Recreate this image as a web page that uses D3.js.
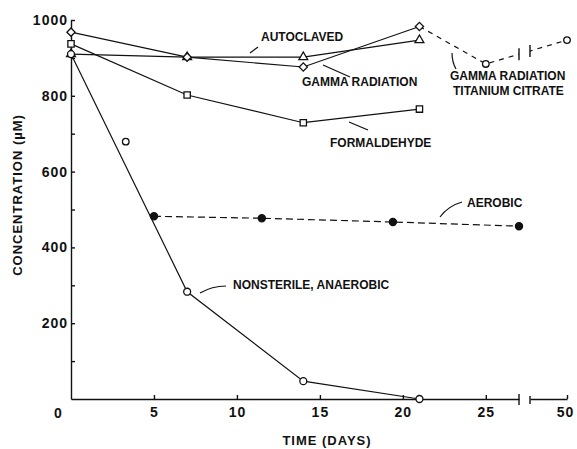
<!DOCTYPE html>
<html>
<head>
<meta charset="utf-8">
<script src="https://cdn.jsdelivr.net/npm/d3@7"></script>
<style>
  body { margin: 0; background: #fff; }
  text { font-family: "Liberation Sans", Arial, sans-serif; fill: #111; }
</style>
</head>
<body>
<div id="chart"></div>
<script>
// data
const days = [0, 7, 14, 21];
const autoclaved = [910, 902, 902, 947];
const gammaRadiation = [968, 902, 876, 983];
const formaldehyde = [937, 802, 729, 765];
const nonsterile = [910, 283, 47, 0];
const nonsterileExtraDays = [3.3];
const nonsterileExtra = [679];
const aerobicDays = [5, 11.5, 19.4, 27];
const aerobic = [482, 477, 467, 456];
const titaniumDays = [21, 25, 50];
const titanium = [983, 884, 947];
const xTicks = [5, 10, 15, 20, 25];
const xTicksAfterBreak = [50];
const yTicks = [100, 200, 300, 400, 500, 600, 700, 800, 900, 1000];

const width = 577, height = 449;
const breakStart = 27, breakEnd = 47.8;

const svg = d3.select("#chart").append("svg")
    .attr("width", width)
    .attr("height", height);

const x1 = d3.scaleLinear().domain([0, breakStart]).range([71, 519]);
const x2 = d3.scaleLinear().domain([breakEnd, 50]).range([530, 567]);
const xPos = d => d <= breakStart ? x1(d) : x2(d);
const y = d3.scaleLinear().domain([0, 1000]).range([399, 20]);

// axes
const yAxis = d3.axisLeft(y)
    .tickValues(yTicks)
    .tickSizeInner(-4)
    .tickSizeOuter(0)
    .tickPadding(3)
    .tickFormat(d => d % 200 === 0 ? d : "");

const gy = svg.append("g")
    .attr("transform", `translate(${x1(0)},0)`)
    .call(yAxis);

const gx = svg.append("g")
    .attr("transform", `translate(0,${y(0)})`)
    .call(d3.axisBottom(x1).tickValues(xTicks).tickSizeInner(-4).tickSizeOuter(0)
        .tickPadding(8).tickFormat(d3.format("d")));

const gx2 = svg.append("g")
    .attr("transform", `translate(0,${y(0)})`)
    .call(d3.axisBottom(x2).tickValues(xTicksAfterBreak).tickSizeInner(-4).tickSizeOuter(0)
        .tickPadding(8).tickFormat(d3.format("d")));

[gy, gx, gx2].forEach(g => {
    g.attr("font-family", null).attr("font-size", null);
    g.selectAll("path, line").attr("stroke", "#111").attr("stroke-width", 1.4);
    g.selectAll("text").attr("font-size", "14px").attr("font-weight", "bold")
        .attr("letter-spacing", "1px").attr("fill", "#111");
});
gx2.selectAll("text").attr("dx", "-2px");

// origin label
svg.append("text")
    .attr("x", x1(0) - 13)
    .attr("y", y(0) + 19)
    .attr("text-anchor", "middle")
    .attr("font-size", "14px")
    .attr("font-weight", "bold")
    .text("0");

// axis break marks
svg.append("line").attr("x1", x1(breakStart)).attr("x2", x1(breakStart))
    .attr("y1", y(0) - 5).attr("y2", y(0) + 6).attr("stroke", "#111").attr("stroke-width", 1.4);
svg.append("line").attr("x1", x2(breakEnd)).attr("x2", x2(breakEnd))
    .attr("y1", y(0) - 3).attr("y2", y(0) + 5).attr("stroke", "#111").attr("stroke-width", 1.4);

// axis titles
svg.append("text")
    .attr("x", 327).attr("y", 445)
    .attr("text-anchor", "middle")
    .attr("font-size", "13px").attr("font-weight", "bold").attr("letter-spacing", "1px")
    .text("TIME (DAYS)");

svg.append("text")
    .attr("transform", "translate(22,195) rotate(-90)")
    .attr("text-anchor", "middle")
    .attr("font-size", "13px").attr("font-weight", "bold").attr("letter-spacing", "1px")
    .text("CONCENTRATION (\u00B5M)");

// lines
const line = d3.line().x(d => xPos(d[0])).y(d => y(d[1]));
const pairs = (xs, ys) => xs.map((d, i) => [d, ys[i]]);

const solidSeries = [
    pairs(days, autoclaved),
    pairs(days, gammaRadiation),
    pairs(days, formaldehyde),
    pairs(days, nonsterile)
];

svg.append("g").selectAll("path")
    .data(solidSeries)
    .enter()
    .append("path")
    .attr("d", line)
    .attr("fill", "none")
    .attr("stroke", "#111")
    .attr("stroke-width", 1.2);

svg.append("path")
    .datum(pairs(aerobicDays, aerobic))
    .attr("d", line)
    .attr("fill", "none")
    .attr("stroke", "#111")
    .attr("stroke-width", 1.2)
    .attr("stroke-dasharray", "7,4");

// titanium citrate dashed line, cut at the axis break
svg.append("clipPath").attr("id", "breakclip")
    .selectAll("rect")
    .data([[0, x1(breakStart)], [x2(breakEnd), width]])
    .enter()
    .append("rect")
    .attr("x", d => d[0]).attr("width", d => d[1] - d[0])
    .attr("y", 0).attr("height", height);

const tiData = pairs(titaniumDays, titanium);
svg.append("path")
    .datum(tiData)
    .attr("d", line)
    .attr("clip-path", "url(#breakclip)")
    .attr("fill", "none")
    .attr("stroke", "#111")
    .attr("stroke-width", 1.2)
    .attr("stroke-dasharray", "5,5");

// break bars on the titanium line
const tA = [xPos(tiData[1][0]), y(tiData[1][1])];
const tB = [xPos(tiData[2][0]), y(tiData[2][1])];
[x1(breakStart), x2(breakEnd)].forEach(px => {
    const py = tA[1] + (tB[1] - tA[1]) * (px - tA[0]) / (tB[0] - tA[0]);
    svg.append("line")
        .attr("x1", px).attr("x2", px)
        .attr("y1", py - 6).attr("y2", py + 6)
        .attr("stroke", "#111").attr("stroke-width", 1.4);
});

// markers
function markers(data, type, opts) {
    const g = svg.append("g");
    g.selectAll("path")
        .data(data)
        .enter()
        .append("path")
        .attr("d", d3.symbol().type(type).size(opts.size))
        .attr("transform", d => `translate(${xPos(d[0])},${y(d[1])}) rotate(${opts.rotate || 0})`)
        .attr("fill", opts.fill || "#fff")
        .attr("stroke", "#111")
        .attr("stroke-width", 1.3);
}

markers(pairs(days, formaldehyde), d3.symbolSquare, { size: 40 });
markers(pairs(days, autoclaved), d3.symbolTriangle, { size: 34 });
markers(pairs(days, gammaRadiation), d3.symbolSquare, { size: 34, rotate: 45 });
markers(pairs(days, nonsterile), d3.symbolCircle, { size: 38 });
markers(pairs(nonsterileExtraDays, nonsterileExtra), d3.symbolCircle, { size: 34 });
markers(tiData.slice(1), d3.symbolCircle, { size: 34 });
markers(pairs(aerobicDays, aerobic), d3.symbolCircle, { size: 40, fill: "#111" });

// annotations
const labels = [
    { text: ["AUTOCLAVED"], x: 261, y: 41, leader: "M250,53 L258,47" },
    { text: ["GAMMA RADIATION"], x: 302, y: 86, leader: "M323,65 L350,77" },
    { text: ["FORMALDEHYDE"], x: 330, y: 147, leader: "M349,122 L368,130" },
    { text: ["GAMMA RADIATION", "TITANIUM CITRATE"], x: 450, y: 80, leader: "M452,53 Q452,62 456,69" },
    { text: ["AEROBIC"], x: 467, y: 207, leader: "M440,217 Q448,206 462,202" },
    { text: ["NONSTERILE, ANAEROBIC"], x: 233, y: 289, leader: "M200,293 Q212,286 226,286" }
];

const lab = svg.append("g").selectAll("g")
    .data(labels)
    .enter()
    .append("g");

lab.append("path")
    .attr("d", d => d.leader)
    .attr("fill", "none")
    .attr("stroke", "#111")
    .attr("stroke-width", 1.2);

lab.each(function(d) {
    d.text.forEach((t, i) => {
        d3.select(this).append("text")
            .attr("x", d.x + (i ? 3 : 0))
            .attr("y", d.y + i * 15)
            .attr("font-size", "12px")
            .attr("font-weight", "bold")
            .text(t);
    });
});
</script>
</body>
</html>
